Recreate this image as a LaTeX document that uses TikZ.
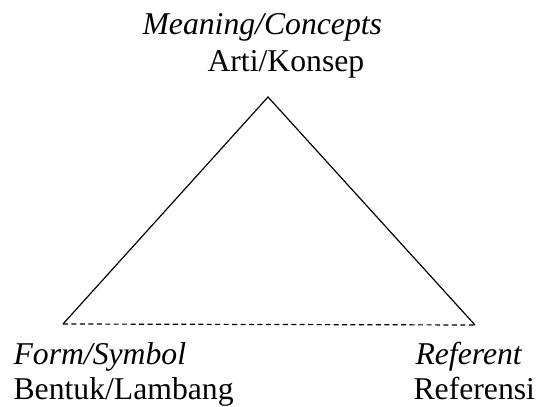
\documentclass[tikz,border=0pt]{standalone}
\usepackage{fontspec}
\setmainfont{Liberation Serif}
\begin{document}
\begin{tikzpicture}[x=0.3785pt,y=-0.3785pt,
  lbl/.style={anchor=base west,inner sep=0pt,font=\fontsize{12}{14}\selectfont},
  ilbl/.style={lbl,font=\fontsize{12}{14}\selectfont\itshape},
  side/.style={line width=0.45pt},
  base/.style={line width=0.45pt,dash pattern=on 1.9pt off 1.3pt}]
\useasboundingbox (0,0) rectangle (538,407);
\coordinate (top) at (268,97);
\coordinate (left) at (63,324);
\coordinate (right) at (475,325);
\draw[side] (left) -- (top) -- (right);
\draw[base] (left) -- (right);
\node[ilbl] (meaning) at (142,35) {Meaning/Concepts};
\node[lbl] (arti) at (207,72) {Arti/Konsep};
\node[ilbl] (form) at (13,365) {Form/Symbol};
\node[lbl] (bentuk) at (13,400) {Bentuk/Lambang};
\node[ilbl] (referent) at (415,365) {Referent};
\node[lbl] (referensi) at (413,400) {Referensi};
\end{tikzpicture}
\end{document}
